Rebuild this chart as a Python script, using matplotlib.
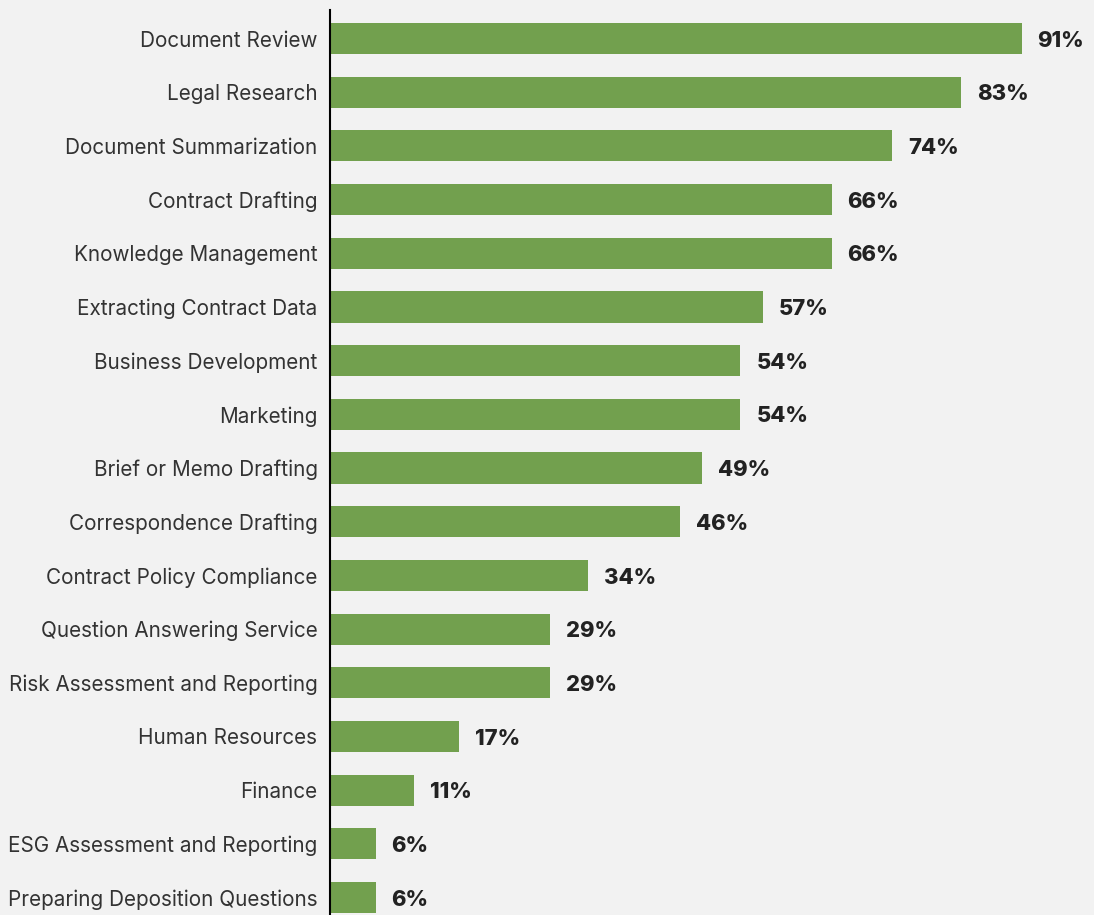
import matplotlib.pyplot as plt

# Share of respondents using AI for each task
tasks = [
    "Document Review",
    "Legal Research",
    "Document Summarization",
    "Contract Drafting",
    "Knowledge Management",
    "Extracting Contract Data",
    "Business Development",
    "Marketing",
    "Brief or Memo Drafting",
    "Correspondence Drafting",
    "Contract Policy Compliance",
    "Question Answering Service",
    "Risk Assessment and Reporting",
    "Human Resources",
    "Finance",
    "ESG Assessment and Reporting",
    "Preparing Deposition Questions",
]
shares = [91, 83, 74, 66, 66, 57, 54, 54, 49, 46, 34, 29, 29, 17, 11, 6, 6]

bg = "#f2f2f2"
bar_color = "#72a04e"

plt.rcParams["font.family"] = ["Inter", "DejaVu Sans"]

fig = plt.figure(figsize=(10.94, 9.15), dpi=100, facecolor=bg)
ax = fig.add_axes([330 / 1094, 0, 1 - 330 / 1094, 1 - 10 / 915])
ax.set_facecolor(bg)

pos = list(range(len(tasks)))
ax.barh(pos, shares, height=0.58, color=bar_color)

for y, v in zip(pos, shares):
    ax.text(v + 2.1, y + 0.04, f"{v}%", va="center", ha="left",
            fontsize=15.8, fontweight="heavy", color="#222222")

ax.set_yticks(pos)
ax.set_yticklabels(tasks, fontsize=14.9, color="#333333")
ax.tick_params(axis="y", length=0, pad=9)
ax.set_xticks([])

ax.set_xlim(0, (1094 - 330) / 7.6)
ax.set_ylim(16.325, -0.531)

for side in ["top", "right", "bottom"]:
    ax.spines[side].set_visible(False)
ax.spines["left"].set_linewidth(1.5)
ax.spines["left"].set_color("black")

fig.savefig("out.png", dpi=100, facecolor=bg)
